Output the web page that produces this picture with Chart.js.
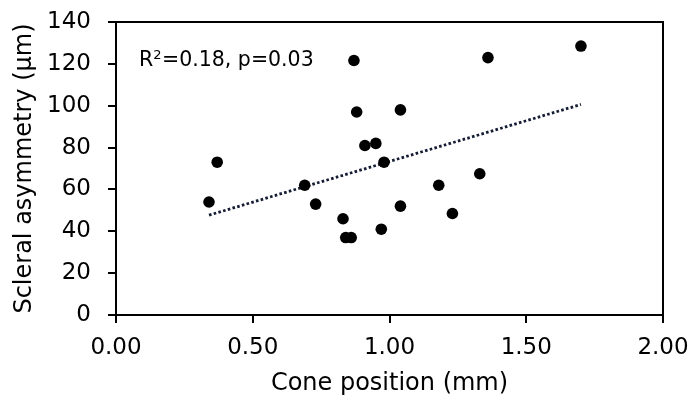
<!DOCTYPE html>
<html>
<head>
<meta charset="utf-8">
<script src="https://cdn.jsdelivr.net/npm/chart.js@4"></script>
<style>
  html, body { margin: 0; padding: 0; background: #fff; }
  #wrap { width: 691px; height: 401px; }
</style>
</head>
<body>
<div id="wrap"><canvas id="c" width="691" height="401"></canvas></div>
<script>
// ---------- data ----------
const conePos = [0.34, 0.37, 0.69, 0.73, 0.83, 0.84, 0.86, 0.87, 0.88, 0.91,
                 0.95, 0.97, 0.98, 1.04, 1.04, 1.18, 1.23, 1.33, 1.36, 1.70];
const asym    = [54, 73, 62, 53, 46, 37, 37, 121.6, 97, 81,
                 82, 41, 73, 98, 52, 62, 48.5, 67.5, 123, 128.5];
const trendX  = [0.34, 1.70];
const trendY  = [47.7, 100.6];
const yTicks  = [0, 20, 40, 60, 80, 100, 120, 140];
const xTicks  = [0, 0.5, 1.0, 1.5, 2.0];
const statParts = ["R", "2", "=0.18, p=0.03"];

const FONT = "'DejaVu Sans', 'Liberation Sans', Arial, sans-serif";

// box round the plot + the stats text
const boxPlugin = {
  id: "box",
  afterDraw(chart) {
    const { ctx, chartArea: a } = chart;
    ctx.save();
    ctx.strokeStyle = "#000";
    ctx.lineWidth = 2;
    ctx.strokeRect(a.left, a.top, a.right - a.left, a.bottom - a.top);

    ctx.fillStyle = "#000";
    ctx.textBaseline = "alphabetic";
    let x = 139;
    const base = 66;
    ctx.font = `20.5px ${FONT}`;
    ctx.fillText(statParts[0], x, base);
    x += ctx.measureText(statParts[0]).width;
    ctx.font = `13px ${FONT}`;
    ctx.fillText(statParts[1], x, base - 7.5);
    x += ctx.measureText(statParts[1]).width + 0.5;
    ctx.font = `20.5px ${FONT}`;
    ctx.fillText(statParts[2], x, base);
    ctx.restore();
  }
};

const points = conePos.map((x, i) => ({ x, y: asym[i] }));
const trend = trendX.map((x, i) => ({ x, y: trendY[i] }));

new Chart(document.getElementById("c").getContext("2d"), {
  type: "scatter",
  data: {
    datasets: [
      {
        data: points, order: 0,
        pointRadius: 5.8, pointHoverRadius: 5.8,
        pointBackgroundColor: "#000", pointBorderColor: "#000", pointBorderWidth: 0
      },
      {
        type: "line", data: trend, order: 1,
        borderColor: "#141c33", borderWidth: 2.8, borderDash: [2.6, 2.3],
        pointRadius: 0, fill: false, tension: 0
      }
    ]
  },
  options: {
    responsive: false,
    animation: false,
    devicePixelRatio: 1,
    layout: { padding: { left: 0, right: 28, top: 22, bottom: 0 } },
    plugins: { legend: { display: false }, tooltip: { enabled: false } },
    scales: {
      x: {
        type: "linear", min: 0, max: 2,
        afterFit: (s) => { s.height = 86; s.paddingLeft = 0; s.paddingRight = 0; },
        afterBuildTicks: (s) => { s.ticks = xTicks.map((v) => ({ value: v })); },
        ticks: {
          callback: (v) => Number(v).toFixed(2),
          color: "#000", font: { family: FONT, size: 23 }, padding: 11, maxRotation: 0
        },
        grid: { drawOnChartArea: false, drawTicks: true, tickLength: 8, color: "#000", lineWidth: 2 },
        border: { display: true, color: "#000", width: 2 },
        title: {
          display: true, text: "Cone position (mm)", color: "#000",
          font: { family: FONT, size: 24 }, padding: { top: 0, bottom: 3 }
        }
      },
      y: {
        type: "linear", min: 0, max: 140,
        afterFit: (s) => { s.width = 116; s.paddingTop = 0; s.paddingBottom = 0; },
        afterBuildTicks: (s) => { s.ticks = yTicks.map((v) => ({ value: v })); },
        ticks: { color: "#000", font: { family: FONT, size: 23 }, padding: 17 },
        grid: { drawOnChartArea: false, drawTicks: true, tickLength: 8, color: "#000", lineWidth: 2 },
        border: { display: true, color: "#000", width: 2 },
        title: {
          display: true, text: "Scleral asymmetry (µm)", color: "#000",
          font: { family: FONT, size: 24 }, padding: { top: 10, bottom: 0 }
        }
      }
    }
  },
  plugins: [boxPlugin]
});
</script>
</body>
</html>
